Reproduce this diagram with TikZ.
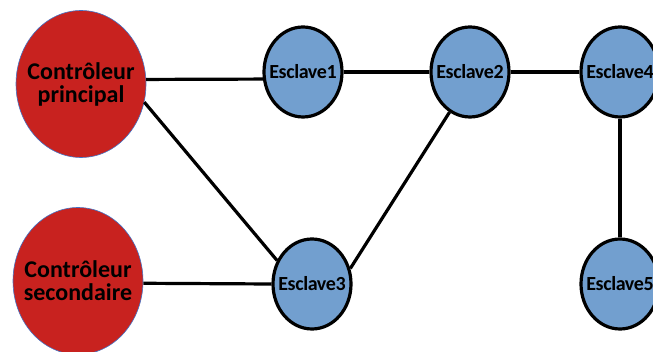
\documentclass[tikz,border=0pt]{standalone}
\usepackage{fontspec}
\setsansfont{Carlito}
\newfontfamily\slavefont[LetterSpace=-2]{Carlito}
\usetikzlibrary{shapes.geometric}
\definecolor{masterred}{RGB}{200,34,31}
\definecolor{slaveblue}{RGB}{114,159,207}
\definecolor{rimblue}{RGB}{68,114,196}
\newcommand*{\mwd}{130pt}
\newcommand*{\mht}{147pt}
\newcommand*{\swd}{78pt}
\newcommand*{\sht}{90pt}

\begin{document}
\begin{tikzpicture}[x=1pt, y=-1pt, font=\sffamily\bfseries,
    master/.style={ellipse, fill=masterred, draw=rimblue, line width=0.6pt,
        minimum width=\mwd, minimum height=\mht, inner sep=-20pt, align=center,
        font=\fontsize{24}{23}\selectfont\sffamily\bfseries},
    slave/.style={ellipse, fill=slaveblue, draw=black, line width=3.2pt,
        minimum width=\swd, minimum height=\sht, inner sep=-20pt,
        font=\fontsize{20}{20}\selectfont\slavefont\bfseries},
    link/.style={line width=3.2pt}]
    \useasboundingbox (0,0) rectangle (653,352);
    % controleurs
    \node [master] (principal)  at ( 81, 84) {Contr\^oleur\\principal};
    \node [master] (secondaire) at ( 78,281) {Contr\^oleur\\secondaire};
    % esclaves
    \node [slave] (esclave1) at (303, 72) {Esclave1};
    \node [slave] (esclave2) at (470, 72) {Esclave2};
    \node [slave] (esclave4) at (620, 72) {Esclave4};
    \node [slave] (esclave3) at (312,284) {Esclave3};
    \node [slave] (esclave5) at (620,284) {Esclave5};
    % liaisons
    \draw [link] (principal.4) -- (esclave1.-170);
    \draw [link] (principal.-16) -- (esclave3.146);
    \draw [link] (secondaire.-2) -- (esclave3.west);
    \draw [link] (esclave1) -- (esclave2);
    \draw [link] (esclave2) -- (esclave4);
    \draw [link] (esclave3.22) -- (esclave2.243);
    \draw [link] (esclave4) -- (esclave5);
\end{tikzpicture}
\end{document}
